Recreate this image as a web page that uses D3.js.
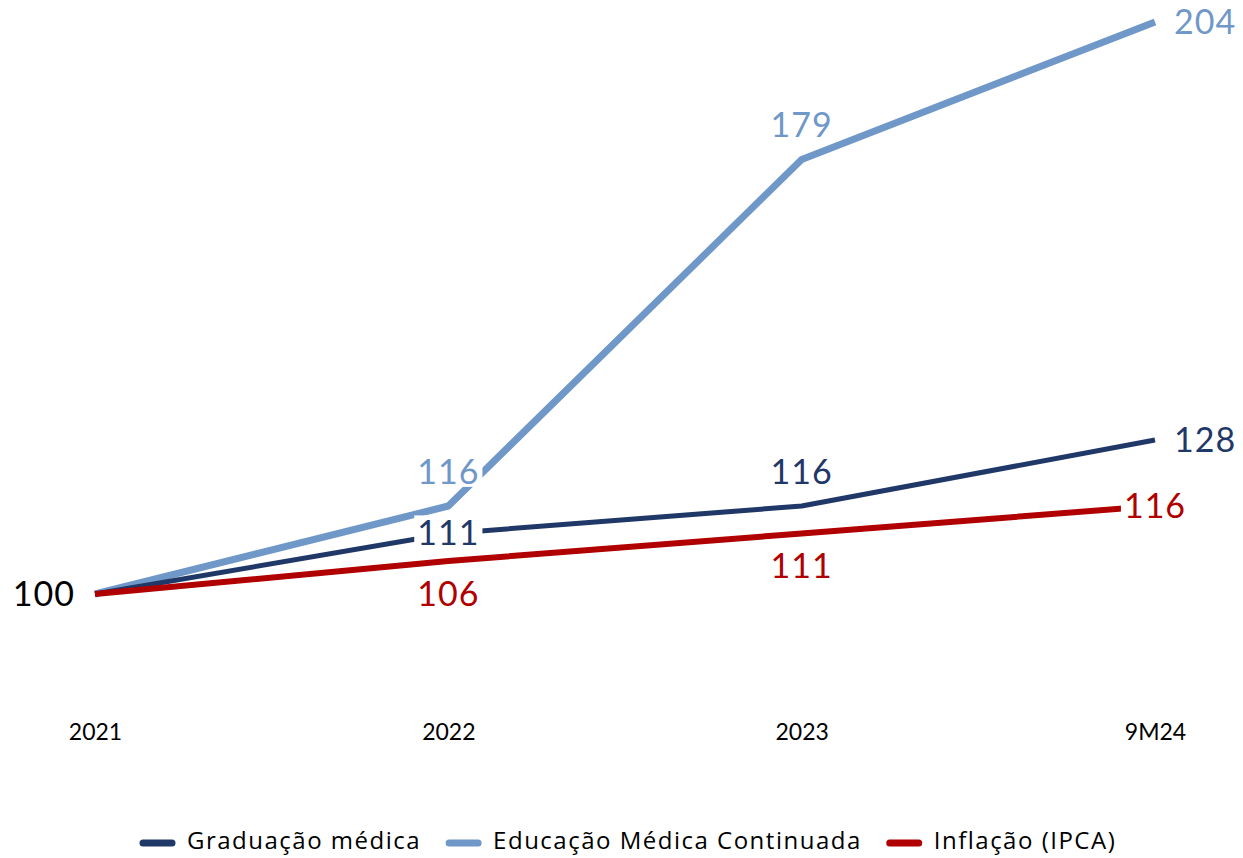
<!DOCTYPE html>
<html>
<head>
<meta charset="utf-8">
<script src="https://cdnjs.cloudflare.com/ajax/libs/d3/7.8.5/d3.min.js"></script>
<style>
  html, body { margin: 0; padding: 0; background: #fff; }
  svg { display: block; }
</style>
</head>
<body>
<svg id="chart" width="1243" height="858"></svg>
<script>
// Periods on the x axis
const periods = ["2021", "2022", "2023", "9M24"];

// Index values (2021 = 100)
const graduacao = [100, 111, 116, 128];
const educacao  = [100, 116, 179, 204];
const inflacao  = [100, 106, 111, 116];

const seriesNames  = ["Graduação médica", "Educação Médica Continuada", "Inflação (IPCA)"];
const seriesColors = ["#1f3868", "#6f98c8", "#b00000"];
const seriesWidths = [5, 7, 6];

// Label placement for each point: "left", "above", "below", "center", "right"
const gradPos = ["none", "center", "above", "right"];
const eduPos  = ["none", "above", "above", "right"];
const infPos  = ["left", "below", "below", "center"];

const series = [
  { name: seriesNames[0], values: graduacao, color: seriesColors[0], width: seriesWidths[0], pos: gradPos },
  { name: seriesNames[1], values: educacao,  color: seriesColors[1], width: seriesWidths[1], pos: eduPos },
  { name: seriesNames[2], values: inflacao,  color: seriesColors[2], width: seriesWidths[2], pos: infPos }
];

const svg = d3.select("#chart");
const font = "Lato, 'Open Sans', sans-serif";
const legendFont = "'Open Sans', Lato, sans-serif";

const x = d3.scalePoint().domain(periods).range([95, 1155]);
const y = d3.scaleLinear().domain([100, 204]).range([594, 22]);

// x axis labels only
const xAxis = d3.axisBottom(x).tickSize(0).tickPadding(0);
const gx = svg.append("g").attr("transform", "translate(0,740)").call(xAxis);
gx.select(".domain").remove();
gx.selectAll("text")
  .attr("dy", 0)
  .attr("fill", "#000")
  .style("font-family", font)
  .style("font-size", "23px");

const line = d3.line()
  .x((d, i) => x(periods[i]))
  .y(d => y(d));

// draw lines (EMC first, then graduação, inflation on top)
const drawOrder = [1, 0, 2];
drawOrder.forEach(k => {
  const s = series[k];
  svg.append("path")
    .datum(s.values)
    .attr("d", line)
    .attr("fill", "none")
    .attr("stroke", s.color)
    .attr("stroke-width", s.width)
    .attr("stroke-linejoin", "round");
});

// value labels with white knock-out backgrounds
const labelLayer = svg.append("g");
series.forEach(s => {
  s.values.forEach((v, i) => {
    const p = s.pos[i];
    if (p === "none") return;
    let lx = x(periods[i]);
    let ly = y(v);
    let anchor = "middle";
    if (p === "above") ly -= 34;
    else if (p === "below") ly += 33;
    else if (p === "left") { lx -= 20; anchor = "end"; }
    else if (p === "right") { lx += 19; anchor = "start"; }
    const g = labelLayer.append("g");
    const t = g.append("text")
      .attr("x", lx)
      .attr("y", ly)
      .attr("dy", "0.35em")
      .attr("text-anchor", anchor)
      .style("font-family", font)
      .style("font-size", "34px")
      .style("letter-spacing", "1px")
      .attr("fill", i === 0 ? "#000" : s.color)
      .text(v);
    const bb = t.node().getBBox();
    g.insert("rect", "text")
      .attr("x", bb.x - 3)
      .attr("y", bb.y + 4)
      .attr("width", bb.width + 6)
      .attr("height", bb.height - 8)
      .attr("fill", "#fff");
  });
});

// legend
const legend = svg.append("g").attr("transform", "translate(0,841)");
let lx = 143;
series.forEach(s => {
  const g = legend.append("g").attr("transform", `translate(${lx},0)`);
  g.append("line")
    .attr("x1", 0).attr("x2", 29)
    .attr("y1", 2).attr("y2", 2)
    .attr("stroke", s.color)
    .attr("stroke-width", 7)
    .attr("stroke-linecap", "round");
  const t = g.append("text")
    .attr("x", 44)
    .attr("y", 0)
    .attr("dy", "0.35em")
    .attr("fill", "#000")
    .style("font-family", legendFont)
    .style("font-size", "24px")
    .style("letter-spacing", "1.5px")
    .text(s.name);
  lx += 44 + t.node().getComputedTextLength() + 28;
});
</script>
</body>
</html>
